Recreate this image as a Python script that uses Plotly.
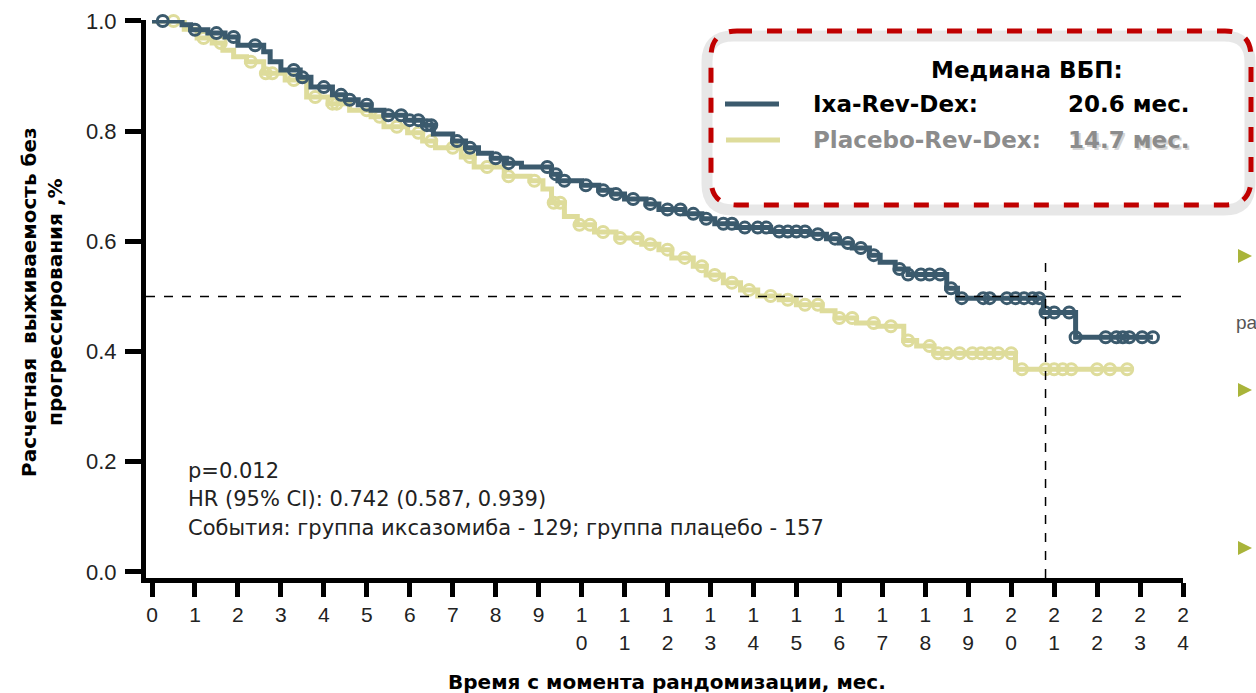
import numpy as np
import plotly.graph_objects as go

# ---------------- data ----------------
ixa_t = [0, 0.7, 0.9, 1.3, 1.7, 2.0, 2.6, 2.75, 3.0, 3.45, 3.7, 4.2, 4.5, 4.8, 5.1, 5.4, 5.9, 6.3,
         6.55, 7.0, 7.3, 7.6, 7.9, 8.25, 8.6, 9.3, 9.45, 10.0, 10.4, 10.7, 11.0, 11.5, 11.8, 12.4,
         12.8, 13.1, 13.6, 14.4, 15.3, 15.7, 16.0, 16.3, 16.7, 16.95, 17.3, 17.6, 18.5, 18.75,
         20.75, 21.5]
ixa_s = [1.0, 0.993, 0.984, 0.978, 0.971, 0.956, 0.944, 0.926, 0.911, 0.898, 0.880, 0.866, 0.857,
         0.848, 0.838, 0.829, 0.820, 0.811, 0.795, 0.782, 0.770, 0.760, 0.751, 0.742, 0.735, 0.722,
         0.710, 0.702, 0.693, 0.686, 0.677, 0.668, 0.658, 0.650, 0.641, 0.632, 0.625, 0.618, 0.613,
         0.605, 0.597, 0.588, 0.575, 0.562, 0.550, 0.540, 0.515, 0.497, 0.471, 0.426]
ixa_end = 23.3
ixa_cens = [0.25, 1.0, 1.5, 1.9, 2.4, 3.3, 3.5, 4.0, 4.4, 4.6, 5.0, 5.5, 5.8, 6.0, 6.2, 6.4, 6.5,
            7.1, 7.4, 8.0, 8.3, 9.2, 9.4, 9.6, 10.1, 10.5, 10.8, 11.2, 11.6, 12.0, 12.3, 12.6, 12.9,
            13.3, 13.5, 13.8, 14.1, 14.3, 14.6, 14.8, 15.0, 15.2, 15.5, 15.9, 16.2, 16.5, 16.8,
            17.4, 17.6, 17.9, 18.1, 18.35, 18.6, 18.85, 19.35, 19.5, 19.9, 20.1, 20.3, 20.5, 20.65,
            20.8, 21.0, 21.35, 21.5, 22.2, 22.45, 22.6, 22.75, 23.05, 23.3]

pla_t = [0, 0.75, 1.05, 1.4, 1.65, 1.9, 2.2, 2.6, 3.1, 3.6, 4.1, 4.6, 5.1, 5.4, 5.95, 6.3, 6.6,
         7.2, 7.5, 8.2, 8.8, 9.1, 9.3, 9.6, 9.9, 10.3, 10.8, 11.4, 11.8, 12.1, 12.6, 12.9, 13.3,
         13.7, 14.1, 14.6, 15.0, 15.6, 15.9, 16.4, 16.9, 17.5, 17.8, 18.2, 20.1]
pla_s = [1.0, 0.985, 0.969, 0.960, 0.947, 0.935, 0.926, 0.905, 0.893, 0.862, 0.850, 0.838, 0.826,
         0.808, 0.797, 0.782, 0.770, 0.753, 0.735, 0.718, 0.710, 0.695, 0.670, 0.645, 0.630, 0.617,
         0.606, 0.595, 0.585, 0.570, 0.555, 0.539, 0.525, 0.512, 0.501, 0.494, 0.485, 0.474, 0.461,
         0.452, 0.446, 0.420, 0.410, 0.397, 0.368]
pla_end = 22.8
pla_cens = [0.5, 1.2, 1.6, 2.3, 2.65, 2.8, 3.3, 3.8, 4.2, 4.3, 5.0, 5.3, 5.7, 6.2, 6.5, 7.0, 7.4,
            7.8, 8.3, 8.9, 9.35, 9.5, 9.95, 10.2, 10.5, 10.9, 11.3, 11.6, 12.0, 12.4, 12.8, 13.1,
            13.5, 13.9, 14.4, 14.8, 15.2, 15.5, 16.0, 16.3, 16.8, 17.2, 17.6, 18.1, 18.3, 18.5,
            18.8, 19.1, 19.3, 19.5, 19.7, 20.0, 20.25, 20.8, 21.0, 21.2, 21.4, 22.0, 22.3, 22.7]

x_ticks = list(range(0, 25))
x_ticktext = [str(v) if v < 10 else "<br>".join(str(v)) for v in x_ticks]
y_ticks = [0.0, 0.2, 0.4, 0.6, 0.8, 1.0]
y_ticktext = ["0.0", "0.2", "0.4", "0.6", "0.8", "1.0"]

median_level = 0.5
median_x = 20.8

BLUE = "#3B5A6D"
YELLOW = "#DEDC9B"
FONT = "Liberation Sans, Arial, sans-serif"
WIDE = "DejaVu Sans, Liberation Sans, sans-serif"

# ---------------- helpers ----------------
W, H = 1256, 693
PX0, PX1, PY0, PY1 = 146, 1183, 20, 578   # plot area in pixels


def px(x):
    return (x - PX0) / (PX1 - PX0)


def py(y):
    return (PY1 - y) / (PY1 - PY0)


def step_xy(t, s, end):
    return list(t) + [end], list(s) + [s[-1]]


def surv_at(t, s, times):
    idx = np.searchsorted(np.array(t), np.array(times), side="right") - 1
    return list(np.array(s)[idx])


fig = go.Figure()

for t, s, end, cens, col in [(pla_t, pla_s, pla_end, pla_cens, YELLOW),
                             (ixa_t, ixa_s, ixa_end, ixa_cens, BLUE)]:
    xs, ys = step_xy(t, s, end)
    fig.add_trace(go.Scatter(x=xs, y=ys, mode="lines", line=dict(color=col, width=5, shape="hv"),
                             showlegend=False, cliponaxis=False, hoverinfo="skip"))
    fig.add_trace(go.Scatter(x=cens, y=surv_at(t, s, cens), mode="markers",
                             marker=dict(symbol="circle-open", size=11, color=col,
                                         line=dict(width=3, color=col)),
                             showlegend=False, cliponaxis=False, hoverinfo="skip"))

shapes = []
# median lines
shapes.append(dict(type="line", xref="paper", yref="y", x0=0, x1=px(1186), y0=median_level,
                   y1=median_level, line=dict(color="black", width=1.5, dash="dash")))
shapes.append(dict(type="line", xref="x", yref="paper", x0=median_x, x1=median_x, y0=0,
                   y1=py(258), line=dict(color="black", width=1.5, dash="dash")))


def rounded_rect(x0, y0, x1, y1, r):
    pts = [
        ("M", x0 + r, y0), ("L", x1 - r, y0), ("Q", x1, y0, x1, y0 + r), ("L", x1, y1 - r),
        ("Q", x1, y1, x1 - r, y1), ("L", x0 + r, y1), ("Q", x0, y1, x0, y1 - r),
        ("L", x0, y0 + r), ("Q", x0, y0, x0 + r, y0),
    ]
    out = []
    for p in pts:
        cmd = p[0]
        coords = p[1:]
        cs = []
        for i in range(0, len(coords), 2):
            cs.append(f"{px(coords[i]):.5f},{py(coords[i + 1]):.5f}")
        out.append(cmd + " " + " ".join(cs))
    return " ".join(out) + " Z"


# legend box shadow + box
shapes.append(dict(type="path", xref="paper", yref="paper", path=rounded_rect(707, 36, 1250, 210, 26),
                   line=dict(color="rgba(120,120,120,0.18)", width=11)))
shapes.append(dict(type="path", xref="paper", yref="paper", path=rounded_rect(711, 31, 1251, 205, 26),
                   line=dict(color="#C00000", width=5, dash="dash"), fillcolor="rgba(0,0,0,0)"))
# legend lines
shapes.append(dict(type="line", xref="paper", yref="paper", x0=px(725), x1=px(779), y0=py(104),
                   y1=py(104), line=dict(color=BLUE, width=5)))
shapes.append(dict(type="line", xref="paper", yref="paper", x0=px(726), x1=px(780), y0=py(140),
                   y1=py(140), line=dict(color=YELLOW, width=5)))
# right side bullet triangles
for yy in (256, 390, 548):
    shapes.append(dict(type="path", xref="paper", yref="paper",
                       path=f"M {px(1238):.5f},{py(yy - 7):.5f} L {px(1252):.5f},{py(yy):.5f} "
                            f"L {px(1238):.5f},{py(yy + 7):.5f} Z",
                       fillcolor="#A9B43A", line=dict(width=0)))

ann = []


def text(x, y, s, size, color="#222", bold=False, xanchor="left", angle=0, family=FONT):
    ann.append(dict(xref="paper", yref="paper", x=px(x), y=py(y), text=f"<b>{s}</b>" if bold else s,
                    showarrow=False, xanchor=xanchor, yanchor="middle", textangle=angle,
                    font=dict(family=family, size=size, color=color)))


text(1027, 70, "Медиана ВБП:", 23, "#000", True, "center", family=WIDE)
text(811, 104, "Ixa-Rev-Dex:", 23, "#000", True, family=WIDE)
text(1066, 104, "20.6 мес.", 23, "#000", True, family=WIDE)
text(811, 140, "Placebo-Rev-Dex:", 23, "#8C8C8C", True, family=WIDE)
text(1068, 142, "14.7 мес.", 23, "#D5D5D5", True, family=WIDE)
text(1066, 140, "14.7 мес.", 23, "#8C8C8C", True, family=WIDE)

text(186, 471, "p=0.012", 21, family=WIDE)
text(186, 499, "HR (95% CI): 0.742 (0.587, 0.939)", 21, family=WIDE)
text(186, 528, "События: группа иксазомиба - 129; группа плацебо - 157", 21, family=WIDE)

text(667, 682, "Время с момента рандомизации, мес.", 20, "#000", True, "center", family=WIDE)
text(42, 302, "Расчетная  выживаемость без<br>прогрессирования ,%", 20, "#000", True, "center", -90,
     family=WIDE)
text(1234, 322, "ра", 19, "#555")

fig.update_layout(
    width=W, height=H, margin=dict(l=PX0, r=W - PX1, t=PY0, b=H - PY1, autoexpand=False),
    plot_bgcolor="white", paper_bgcolor="white", shapes=shapes, annotations=ann,
    font=dict(family=FONT, color="#222"),
    xaxis=dict(range=[-0.14, 24], tickvals=x_ticks, ticktext=x_ticktext, showline=True,
               linewidth=5, linecolor="black", ticks="outside", ticklen=14, tickwidth=5,
               tickcolor="black", showgrid=False, zeroline=False,
               tickfont=dict(family=FONT, size=21, color="#222")),
    yaxis=dict(range=[-0.0109, 1.0018], tickvals=y_ticks, ticktext=y_ticktext, showline=True,
               linewidth=5, linecolor="black", ticks="outside", ticklen=16, tickwidth=5,
               tickcolor="black", showgrid=False, zeroline=False, ticklabelstandoff=4,
               tickfont=dict(family=FONT, size=22, color="#222")),
)

fig.write_html("out.html")
